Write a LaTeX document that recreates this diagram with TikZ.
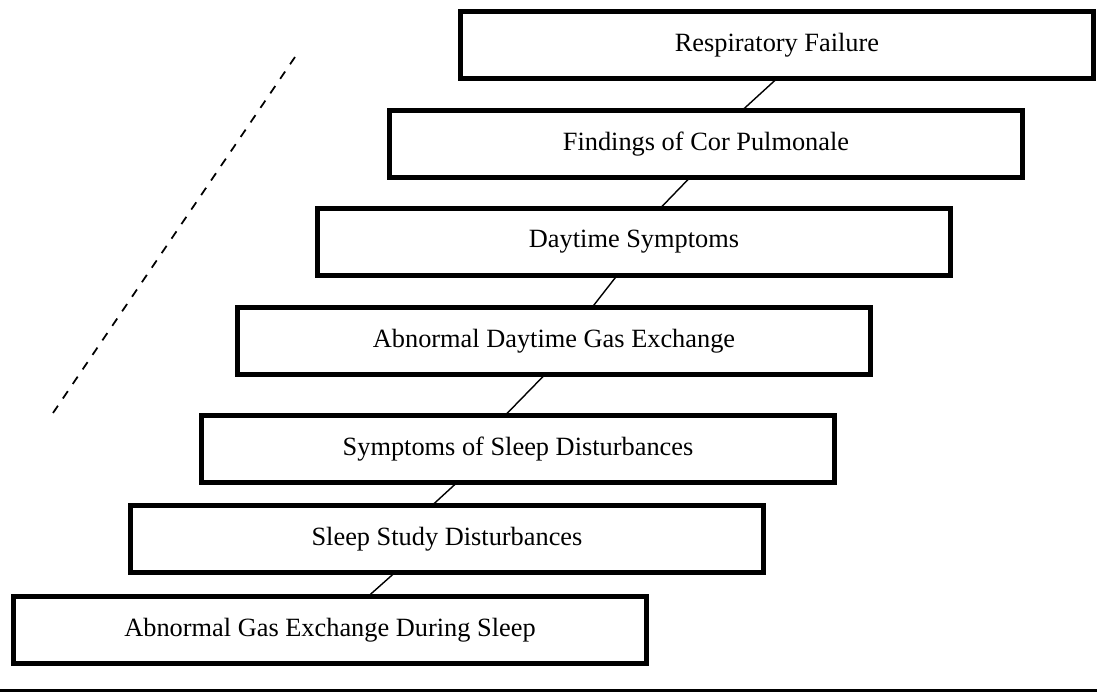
\documentclass[tikz,border=0pt]{standalone}
\usepackage{fontspec}
\setmainfont{Liberation Serif}
\usetikzlibrary{calc}
\begin{document}
\begin{tikzpicture}[x=0.02cm,y=-0.02cm,inner sep=0pt,outer sep=0pt,
stagebox/.style={draw,rectangle,line width=2.6pt,minimum width=12.66cm,minimum height=1.34cm,font=\fontsize{15}{18}\selectfont},
link/.style={line width=0.8pt}]
\useasboundingbox (0,0) rectangle (1097,692);
\draw (777,45) node[stagebox] (resp) {Respiratory Failure};
\draw (706,144) node[stagebox] (cor) {Findings of Cor Pulmonale};
\draw (634,242) node[stagebox] (daysym) {Daytime Symptoms};
\draw (554,341) node[stagebox] (daygas) {Abnormal Daytime Gas Exchange};
\draw (518,449) node[stagebox] (sleepsym) {Symptoms of Sleep Disturbances};
\draw (447,539) node[stagebox] (study) {Sleep Study Disturbances};
\draw (330,630) node[stagebox] (sleepgas) {Abnormal Gas Exchange During Sleep};
% links between the steps
\draw[link] (resp.south) -- ($(cor.north)+(36,0)$);
\draw[link] ($(cor.south)+(-16,0)$) -- ($(daysym.north)+(26,0)$);
\draw[link] ($(daysym.south)+(-17,0)$) -- ($(daygas.north)+(38,0)$);
\draw[link] ($(daygas.south)+(-9,0)$) -- ($(sleepsym.north)+(-13,0)$);
\draw[link] ($(sleepsym.south)+(-61,0)$) -- ($(study.north)+(-15,0)$);
\draw[link] ($(study.south)+(-52,0)$) -- ($(sleepgas.north)+(38,0)$);
% dashed slope and base line
\coordinate (slopetop) at (295,57);
\coordinate (slopebot) at (53,413);
\draw[line width=1pt,dash pattern=on 5pt off 5pt] (slopetop) -- (slopebot);
\coordinate (baseL) at (0,690);
\coordinate (baseR) at (1097,690);
\draw[line width=1.7pt] (baseL) -- (baseR);
\end{tikzpicture}
\end{document}
